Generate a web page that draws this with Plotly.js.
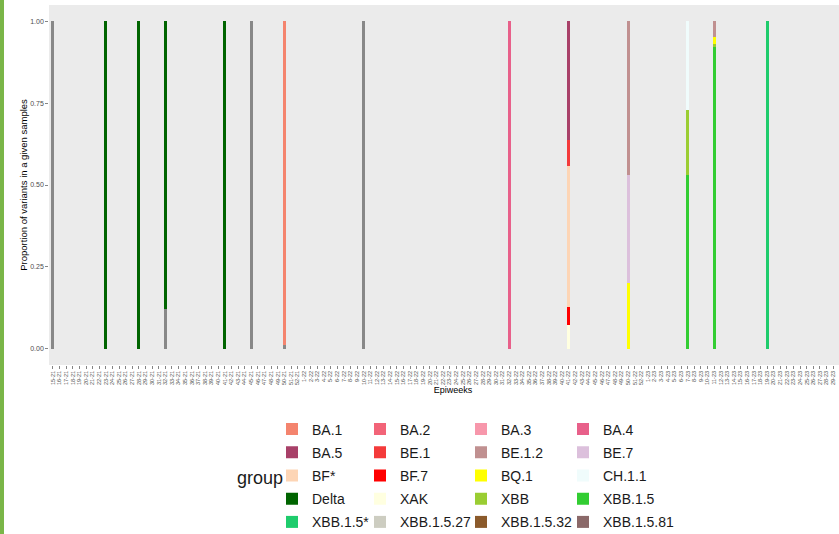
<!DOCTYPE html>
<html><head><meta charset="utf-8">
<script src="https://cdn.plot.ly/plotly-3.0.1.min.js"></script>
<style>
html,body{margin:0;padding:0;overflow:hidden;background:#fff}
#chart{width:870px;height:534px}
#stripe{position:absolute;left:0;top:0;width:4px;height:534px;background:#7ab648;z-index:10}
</style></head><body>
<div id="stripe"></div><div id="chart"></div>
<script>
// ---- data ----
const weekRanges = [[21, 15, 52], [22, 1, 52], [23, 1, 32]]; // [year, first week, last week] on the axis
const epiweeks = [];
for (const [yy, a, b] of weekRanges) { for (let w = a; w <= b; w++) epiweeks.push(w + "-" + yy); }
const visibleWeekLabels = epiweeks.slice(0, 119); // labels that fit inside the 839 px window

const sampleWeeks = ["15-21","23-21","28-21","32-21","41-21","45-21","50-21","10-22","32-22","41-22","50-22","7-23","11-23","19-23"];

const variants = ["BA.1","BA.2","BA.3","BA.4","BA.5","BE.1","BE.1.2","BE.7","BF*","BF.7","BQ.1","CH.1.1","Delta","XAK","XBB","XBB.1.5","XBB.1.5*","XBB.1.5.27","XBB.1.5.32","XBB.1.5.81"];
const variantColors = ["#F4846E","#F26478","#F797AB","#E8608A","#A84068","#F43A3A","#C09090","#DCC0DC","#FDD5B5","#FF0000","#FFFF00","#F0FCFC","#006400","#FFFFE0","#9ACD32","#32CD32","#1ECC6C","#CDCDC1","#8B5A2B","#8B6969"];

const unassigned = [1,    0, 0, 0.12, 0, 1, 0.012, 1, 0, 0,     0,    0,    0,     0];
const ba1        = [0,    0, 0, 0,    0, 0, 0.988, 0, 0, 0,     0,    0,    0,     0];
const ba2        = [0,    0, 0, 0,    0, 0, 0,     0, 0, 0,     0,    0,    0,     0];
const ba3        = [0,    0, 0, 0,    0, 0, 0,     0, 0, 0,     0,    0,    0,     0];
const ba4        = [0,    0, 0, 0,    0, 0, 0,     0, 1, 0,     0,    0,    0,     0];
const ba5        = [0,    0, 0, 0,    0, 0, 0,     0, 0, 0.362, 0,    0,    0,     0];
const be1        = [0,    0, 0, 0,    0, 0, 0,     0, 0, 0.081, 0,    0,    0,     0];
const be12       = [0,    0, 0, 0,    0, 0, 0,     0, 0, 0,     0.47, 0,    0.049, 0];
const be7        = [0,    0, 0, 0,    0, 0, 0,     0, 0, 0,     0.33, 0,    0,     0];
const bfStar     = [0,    0, 0, 0,    0, 0, 0,     0, 0, 0.43,  0,    0,    0,     0];
const bf7        = [0,    0, 0, 0,    0, 0, 0,     0, 0, 0.054, 0,    0,    0,     0];
const bq1        = [0,    0, 0, 0,    0, 0, 0,     0, 0, 0,     0.2,  0,    0.02,  0];
const ch11       = [0,    0, 0, 0,    0, 0, 0,     0, 0, 0,     0,    0.27, 0,     0];
const delta      = [0,    1, 1, 0.88, 1, 0, 0,     0, 0, 0,     0,    0,    0,     0];
const xak        = [0,    0, 0, 0,    0, 0, 0,     0, 0, 0.073, 0,    0,    0,     0];
const xbb        = [0,    0, 0, 0,    0, 0, 0,     0, 0, 0,     0,    0.2,  0.01,  0];
const xbb15      = [0,    0, 0, 0,    0, 0, 0,     0, 0, 0,     0,    0.53, 0.921, 0];
const xbb15Star  = [0,    0, 0, 0,    0, 0, 0,     0, 0, 0,     0,    0,    0,     1];
const xbb1527    = [0,    0, 0, 0,    0, 0, 0,     0, 0, 0,     0,    0,    0,     0];
const xbb1532    = [0,    0, 0, 0,    0, 0, 0,     0, 0, 0,     0,    0,    0,     0];
const xbb1581    = [0,    0, 0, 0,    0, 0, 0,     0, 0, 0,     0,    0,    0,     0];
const variantValues = [ba1, ba2, ba3, ba4, ba5, be1, be12, be7, bfStar, bf7, bq1, ch11, delta, xak, xbb, xbb15, xbb15Star, xbb1527, xbb1532, xbb1581];

const yTicks = [0, 0.25, 0.5, 0.75, 1];
const yTickText = ["0.00", "0.25", "0.50", "0.75", "1.00"];

// ---- layout helpers ----
const FONT = "Liberation Sans, Arial, sans-serif";
const W = 870, H = 534, ML = 49, MR = 13, MT = 5, MB = 169;
const PW = W - ML - MR, PH = H - MT - MB;
const px2x = p => (p - ML) / PW;
const py2y = p => (H - MB - p) / PH;

const traces = [];
traces.push({type: 'bar', name: 'NA', x: sampleWeeks, y: unassigned, showlegend: false,
  marker: {color: '#888888', line: {width: 0}}, hoverinfo: 'skip'});
for (let i = variants.length - 1; i >= 0; i--) {
  const col = i % 4, row = Math.floor(i / 4);
  traces.push({
    type: 'bar', name: variants[i], x: sampleWeeks, y: variantValues[i],
    marker: {color: variantColors[i], line: {width: 0}},
    legend: col === 0 ? 'legend' : 'legend' + (col + 1),
    legendrank: row + 1, legendgroup: 'g' + i
  });
}

const legendBase = {orientation: 'v', xanchor: 'left', yanchor: 'top', y: py2y(413.5),
  font: {size: 14, color: '#1a1a1a', family: FONT}, bgcolor: 'rgba(0,0,0,0)',
  tracegroupgap: 2.0, borderwidth: 0};
const legendX = [272, 360, 461, 563];

const layout = {
  width: W, height: H,
  margin: {l: ML, r: MR, t: MT, b: MB, autoexpand: false},
  paper_bgcolor: '#ffffff', plot_bgcolor: '#EBEBEB',
  barmode: 'stack', bargap: 0.55,
  font: {family: FONT},
  showlegend: true,
  legend: Object.assign({}, legendBase, {x: px2x(legendX[0])}),
  legend2: Object.assign({}, legendBase, {x: px2x(legendX[1])}),
  legend3: Object.assign({}, legendBase, {x: px2x(legendX[2])}),
  legend4: Object.assign({}, legendBase, {x: px2x(legendX[3])}),
  xaxis: {
    type: 'category', categoryorder: 'array', categoryarray: epiweeks,
    range: [-0.6, epiweeks.length - 1 + 0.6],
    tickmode: 'array', tickvals: visibleWeekLabels, ticktext: visibleWeekLabels, tickangle: -90,
    tickfont: {size: 5.5, color: '#4d4d4d', family: FONT},
    ticks: 'outside', ticklen: 2.75, tickwidth: 0.6, tickcolor: '#333333',
    showgrid: false, zeroline: false, showline: false, automargin: false,
    title: {text: 'Epiweeks', font: {size: 9, color: '#000000', family: FONT}, standoff: 2}
  },
  yaxis: {
    range: [-0.05, 1.05], tickmode: 'array', tickvals: yTicks, ticktext: yTickText,
    tickfont: {size: 7, color: '#4d4d4d', family: FONT},
    ticks: 'outside', ticklen: 2.75, tickwidth: 0.6, tickcolor: '#333333',
    showgrid: false, zeroline: false, showline: false, automargin: false,
    title: {text: 'Proportion of variants in a given samples', font: {size: 9.5, color: '#000000', family: FONT}, standoff: 0}
  },
  annotations: [{xref: 'paper', yref: 'paper', x: px2x(235), y: py2y(478), xanchor: 'left', yanchor: 'middle',
    text: 'group', showarrow: false, font: {size: 18, color: '#1a1a1a', family: FONT}}]
};

Plotly.newPlot('chart', traces, layout, {staticPlot: true, displayModeBar: false});
</script></body></html>
